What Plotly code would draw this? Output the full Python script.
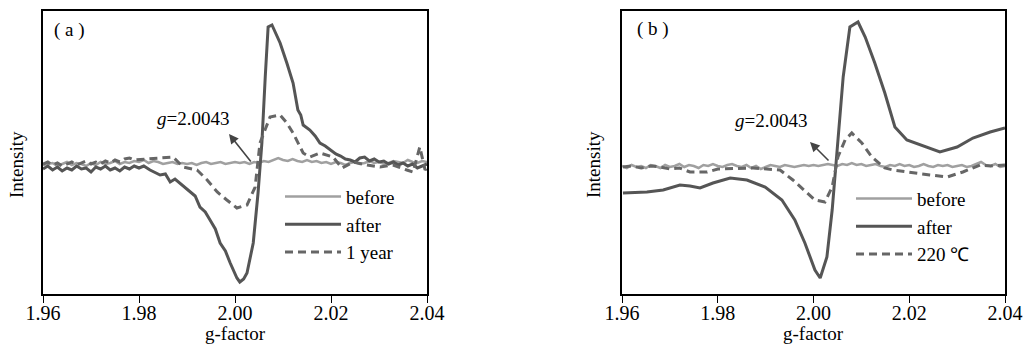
import plotly.graph_objects as go

# ---------------- Panel (a) data ----------------
a_before_g = [round(1.960 + 0.001 * i, 3) for i in range(81)]
a_before_I = [-2, -1, 0, -3, -1, 1, -2, 0, -1, -3,
              0, -2, 1, -1, 0, 2, -1, 1, 0, 2,
              1, 3, 0, 2, 1, -1, 0, 1, -1, 0,
              -1, 0, -2, 0, 1, -1, 0, 1, -1, 0,
              1, 0, 1, -1, 1, 0, 2, 1, 3, 5,
              3, 2, 4, 2, 1, 3, 1, 2, 0, 1,
              -1, 1, 0, -2, 0, 1, -1, 0, 2, 0,
              1, -1, 0, 2, 1, 0, 3, 1, 0, 2,
              1]

a_after_g = [1.960, 1.961, 1.962, 1.963, 1.964, 1.965, 1.966, 1.967, 1.968, 1.969,
             1.970, 1.971, 1.972, 1.973, 1.974, 1.975, 1.976, 1.977, 1.978, 1.979,
             1.980, 1.981, 1.9823, 1.9844, 1.9855, 1.9865, 1.9875, 1.9885, 1.9895, 1.9906,
             1.9917, 1.9927, 1.9938, 1.9948, 1.9959, 1.9969, 1.9980, 1.9990, 2.0004, 2.0010,
             2.0018, 2.0025, 2.0038, 2.0048, 2.0056, 2.0063, 2.0069, 2.0077, 2.0086, 2.0094,
             2.0108, 2.0121, 2.0131, 2.0137, 2.0142, 2.0156, 2.0167, 2.0177, 2.0188, 2.0198,
             2.0210, 2.0220, 2.0230, 2.0240, 2.0250, 2.0260, 2.0270, 2.0280, 2.0290, 2.0300,
             2.0310, 2.0320, 2.0330, 2.0340, 2.0350, 2.0360, 2.0370, 2.0380, 2.0390, 2.0400]
a_after_I = [-6, -3, -7, -4, -8, -5, -7, -3, -6, -5,
             -9, -4, -6, -3, -7, -5, -8, -4, -6, -3,
             -5, -3, -7, -12, -11, -19, -16, -20, -24, -29,
             -33, -44, -49, -57, -66, -80, -88, -100, -115, -119,
             -116, -110, -80, -30, 20, 86, 136, 138, 128, 120,
             100, 80, 53, 48, 38, 33, 27, 20, 17, 13,
             9, 7, 4, 3, 1, 5, 6, 2, 4, 1,
             2, -1, 1, -2, 0, -3, -1, -5, -3, -1]

a_year_g = [1.960, 1.961, 1.962, 1.963, 1.964, 1.965, 1.966, 1.967, 1.968, 1.969,
            1.970, 1.971, 1.972, 1.973, 1.974, 1.975, 1.976, 1.977, 1.978, 1.979,
            1.9844, 1.9871, 1.9892, 1.9921, 1.9942, 1.9963, 1.9983, 2.0004, 2.0025, 2.0042,
            2.0052, 2.0063, 2.0073, 2.0094, 2.0108, 2.0121, 2.0131, 2.0142, 2.0156, 2.0177,
            2.0204, 2.0223, 2.0246, 2.0275, 2.0302, 2.0329, 2.0358, 2.0371, 2.0385, 2.0396,
            2.0400]
a_year_I = [-1, 1, -2, 0, -3, -1, 1, -2, 0, 2,
            -1, 1, -1, 2, 0, 3, 1, 4, 5, 3,
            5, 6, -4, -7, -17, -29, -37, -45, -42, -24,
            20, 33, 46, 48, 40, 30, 20, 10, 6, 10,
            6, -5, 1, -2, -4, -2, -7, -9, 16, -7,
            -5]

# ---------------- Panel (b) data ----------------
b_before_g = [round(1.960 + 0.001 * i, 3) for i in range(81)]
b_before_I = [0, -2, 1, -1, 0, -2, 1, 0, -2, 1,
              -1, 0, 2, -1, 1, 0, -2, 1, 0, 2,
              0, -1, 1, 2, 0, -1, 1, -2, 0, -3,
              -1, 1, 0, -1, 1, 0, -1, 0, 1, 0,
              1, 0, 1, 2, 1, 0, 2, 1, 3, 1,
              2, 0, 1, 2, 0, -1, 1, 0, 2, 0,
              1, -1, 0, 2, 0, -1, 1, 0, 1, -1,
              0, 1, -1, 0, 2, 4, 1, 0, 2, -1,
              0]

b_after_g = [1.9602, 1.9652, 1.9686, 1.9721, 1.9742, 1.9763, 1.9790, 1.9826, 1.9861, 1.9899,
             1.9934, 1.9961, 1.9982, 2.0003, 2.0014, 2.0028, 2.0039, 2.0051, 2.0062, 2.0076,
             2.0093, 2.0108, 2.0128, 2.0149, 2.0170, 2.0195, 2.0222, 2.0264, 2.0300, 2.0333,
             2.0369, 2.0400]
b_after_I = [-27, -26, -24, -19, -20, -22, -17, -12, -14, -21,
             -34, -54, -77, -104, -112, -91, -44, 23, 89, 139,
             144, 129, 103, 73, 39, 26, 21, 14, 19, 28,
             34, 38]

b_heat_g = [1.9602, 1.962, 1.964, 1.966, 1.968, 1.970, 1.972, 1.9742, 1.9778, 1.980,
            1.9874, 1.990, 1.9930, 1.9957, 1.9986, 2.0003, 2.0024, 2.0039, 2.0051, 2.0066,
            2.0080, 2.0101, 2.0122, 2.0149, 2.0166, 2.0208, 2.0243, 2.0279, 2.0312, 2.0348,
            2.0370, 2.0400]
b_heat_I = [-1, 0, -2, 0, -1, -3, -2, -6, -6, -3,
            -2, -3, -4, -14, -27, -34, -36, -21, 9, 26,
            33, 23, 9, -2, -4, -7, -9, -11, -6, 1,
            0, 1]

tick_vals = [1.96, 1.98, 2.00, 2.02, 2.04]
tick_text = ["1.96", "1.98", "2.00", "2.02", "2.04"]

FONT = "Liberation Serif, Times New Roman, Times, serif"
C_BEFORE = "#a0a0a0"
C_AFTER = "#555555"
C_DASH = "#666666"

fig = go.Figure()

fig.add_trace(go.Scatter(x=a_before_g, y=a_before_I, mode="lines", name="before",
                         line=dict(color=C_BEFORE, width=2.5), xaxis="x", yaxis="y", legend="legend"))
fig.add_trace(go.Scatter(x=a_after_g, y=a_after_I, mode="lines", name="after",
                         line=dict(color=C_AFTER, width=3), xaxis="x", yaxis="y", legend="legend"))
fig.add_trace(go.Scatter(x=a_year_g, y=a_year_I, mode="lines", name="1 year",
                         line=dict(color=C_DASH, width=3, dash="8px,5px"), xaxis="x", yaxis="y", legend="legend"))

fig.add_trace(go.Scatter(x=b_before_g, y=b_before_I, mode="lines", name="before",
                         line=dict(color=C_BEFORE, width=2.5), xaxis="x2", yaxis="y2", legend="legend2"))
fig.add_trace(go.Scatter(x=b_after_g, y=b_after_I, mode="lines", name="after",
                         line=dict(color=C_AFTER, width=3), xaxis="x2", yaxis="y2", legend="legend2"))
fig.add_trace(go.Scatter(x=b_heat_g, y=b_heat_I, mode="lines", name="220 ℃",
                         line=dict(color=C_DASH, width=3, dash="8px,5px"), xaxis="x2", yaxis="y2", legend="legend2"))

xaxis_common = dict(range=[1.96, 2.04], tickvals=tick_vals, ticktext=tick_text,
                    showline=True, linecolor="black", linewidth=1.5, mirror=True,
                    ticks="outside", ticklen=7, tickwidth=1.2, tickcolor="black",
                    ticklabelstandoff=-7,
                    showgrid=False, zeroline=False, automargin=False,
                    tickfont=dict(family=FONT, size=20, color="black"))
yaxis_common = dict(showline=True, linecolor="black", linewidth=1.5, mirror=True, automargin=False,
                    ticks="", showticklabels=False, showgrid=False, zeroline=False)

legend_common = dict(font=dict(family=FONT, size=19, color="black"), bgcolor="rgba(0,0,0,0)",
                     borderwidth=0, xanchor="left", yanchor="top", tracegroupgap=0,
                     itemwidth=56)

fig.update_layout(
    width=1024, height=345,
    margin=dict(l=0, r=0, t=11, b=51, autoexpand=False),
    plot_bgcolor="white", paper_bgcolor="white",
    showlegend=True,
    xaxis=dict(domain=[43 / 1024, 427 / 1024], anchor="y", **xaxis_common),
    yaxis=dict(domain=[0, 1], anchor="x", range=[-131, 152], **yaxis_common),
    xaxis2=dict(domain=[622 / 1024, 1005 / 1024], anchor="y2", **xaxis_common),
    yaxis2=dict(domain=[0, 1], anchor="x2", range=[-128, 155], **yaxis_common),
    legend=dict(x=280 / 1024, y=0.411, **legend_common),
    legend2=dict(x=851 / 1024, y=0.404, **legend_common),
)

txt_font = dict(family=FONT, size=19, color="black")
annotations = [
    dict(text="( a )", xref="x domain", yref="y domain", x=0.023, y=0.933, xanchor="left", yanchor="middle",
         showarrow=False, font=txt_font),
    dict(text="( b )", xref="x2 domain", yref="y2 domain", x=0.034, y=0.936, xanchor="left", yanchor="middle",
         showarrow=False, font=txt_font),
    dict(text="<i>g</i>=2.0043", xref="x", yref="y", x=1.99125, y=45, showarrow=False, font=txt_font),
    dict(text="<i>g</i>=2.0043", xref="x2", yref="y2", x=1.99112, y=46, showarrow=False, font=txt_font),
    dict(text="", xref="x", yref="y", x=1.99875, y=29, axref="x", ayref="y", ax=2.00354, ay=0,
         showarrow=True, arrowhead=2, arrowsize=1.2, arrowwidth=1.6, arrowcolor="#444444"),
    dict(text="", xref="x2", yref="y2", x=1.99927, y=24, axref="x2", ayref="y2", ax=2.00345, ay=4,
         showarrow=True, arrowhead=2, arrowsize=1.2, arrowwidth=1.6, arrowcolor="#444444"),
    dict(text="Intensity", xref="paper", yref="paper", x=16 / 1024, y=(294 - 165) / 283, textangle=-90,
         xanchor="center", yanchor="middle", showarrow=False, font=txt_font),
    dict(text="Intensity", xref="paper", yref="paper", x=593 / 1024, y=(294 - 165) / 283, textangle=-90,
         xanchor="center", yanchor="middle", showarrow=False, font=txt_font),
    dict(text="g-factor", xref="x domain", yref="paper", x=0.5, y=(294 - 333) / 283,
         xanchor="center", yanchor="middle", showarrow=False, font=txt_font),
    dict(text="g-factor", xref="x2 domain", yref="paper", x=0.5, y=(294 - 333) / 283,
         xanchor="center", yanchor="middle", showarrow=False, font=txt_font),
]
fig.update_layout(annotations=annotations)

fig.write_html("out.html", config={"displayModeBar": False},
               post_script="document.body.style.margin='0px';document.body.style.overflow='hidden';")
